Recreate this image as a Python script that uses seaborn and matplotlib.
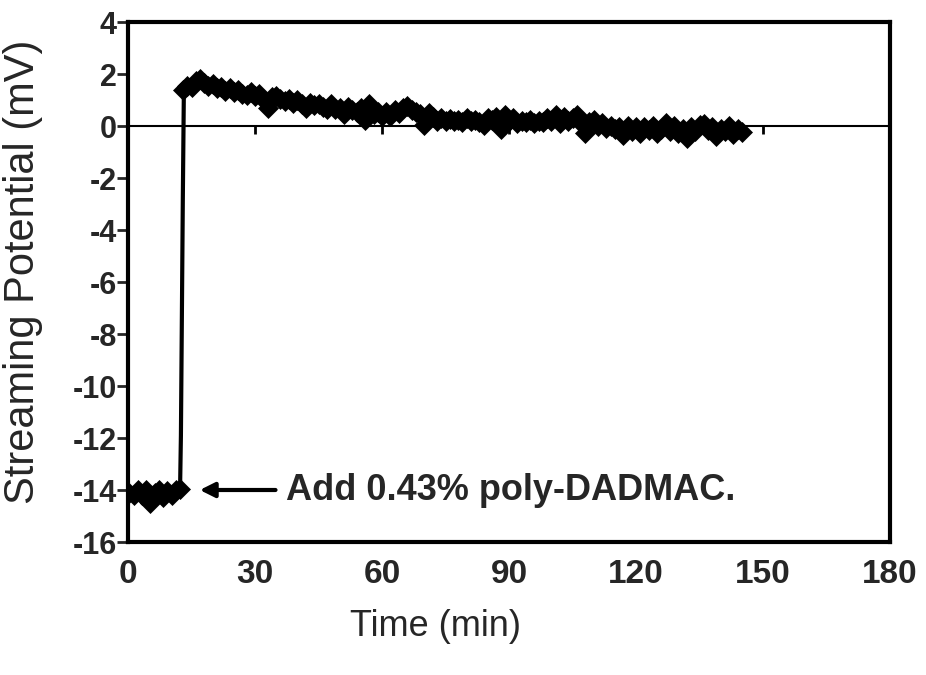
import matplotlib
matplotlib.use("Agg")
import matplotlib.pyplot as plt
import seaborn as sns
import numpy as np
import pandas as pd

# ---- data ----
pre_time = [0.3, 1.3, 2.3, 3.3, 4.3, 5.3, 6.3, 7.3, 8.3, 9.3, 10.3, 11.3, 12.3]
pre_potential = [-14.1, -14.2, -14.0, -14.2, -14.0, -14.5, -14.1, -14.0, -14.25, -14.05, -14.2, -14.0, -13.95]

jump_time = [12.3, 12.5, 12.95, 13.2]
jump_potential = [-13.95, -11.9, -2.8, 1.4]

post_time = list(range(13, 146))
post_potential = [
    1.40, 1.55, 1.50, 1.75, 1.80, 1.65, 1.55, 1.60, 1.45, 1.50,   # 13-22
    1.35, 1.45, 1.30, 1.40, 1.25, 1.20, 1.30, 1.15, 1.25, 1.05,   # 23-32
    0.70, 1.10, 1.15, 1.05, 0.95, 1.05, 0.90, 1.00, 0.85, 0.70,   # 33-42
    0.90, 0.80, 0.85, 0.75, 0.65, 0.85, 0.65, 0.70, 0.45, 0.75,   # 43-52
    0.60, 0.55, 0.70, 0.25, 0.85, 0.45, 0.55, 0.40, 0.55, 0.40,   # 53-62
    0.60, 0.50, 0.70, 0.78, 0.60, 0.55, 0.45, 0.05, 0.50, 0.35,   # 63-72
    0.20, 0.30, 0.20, 0.28, 0.20, 0.25, 0.15, 0.30, 0.20, 0.25,   # 73-82
    0.15, 0.05, 0.30, 0.25, 0.35, -0.10, 0.42, 0.20, 0.30, 0.12,  # 83-92
    0.20, 0.15, 0.25, 0.12, 0.20, 0.15, 0.30, 0.20, 0.42, 0.12,   # 93-102
    0.35, 0.20, 0.30, 0.42, 0.10, -0.27, 0.15, 0.22, 0.00, 0.10,  # 103-112
    -0.08, 0.00, -0.10, -0.05, -0.35, 0.00, -0.20, -0.05, -0.27, -0.05,  # 113-122
    -0.15, 0.00, -0.25, -0.10, 0.12, -0.20, 0.00, -0.27, -0.10, -0.46,   # 123-132
    -0.05, -0.20, 0.05, 0.08, -0.15, -0.05, -0.38, -0.10, -0.20, 0.00,   # 133-142
    -0.30, -0.10, -0.23,                                                  # 143-145
]

x_ticks = [0, 30, 60, 90, 120, 150, 180]
y_ticks = [4, 2, 0, -2, -4, -6, -8, -10, -12, -14, -16]
annotation_text = "Add 0.43% poly-DADMAC."

# ---- style ----
sns.set_style("white")
plt.rcParams['font.family'] = ['Liberation Sans', 'DejaVu Sans']

fig = plt.figure(figsize=(9.26, 6.75), dpi=100)
ax = fig.add_axes([128/926, 1-542/675, (890-128)/926, (542-22)/675])

pre_df = pd.DataFrame({"t": pre_time, "v": pre_potential})
post_df = pd.DataFrame({"t": post_time, "v": post_potential})
jump_df = pd.DataFrame({"t": jump_time, "v": jump_potential})

sns.lineplot(data=jump_df, x="t", y="v", ax=ax, color="black", lw=3,
             sort=False, estimator=None)
for df in (pre_df, post_df):
    sns.lineplot(data=df, x="t", y="v", ax=ax, color="black", lw=2,
                 marker="D", markersize=10.5, markeredgecolor="black",
                 markeredgewidth=0.5, sort=False, estimator=None)

ax.set_xlim(0, 180)
ax.set_ylim(-16, 4)

# zero axis line with tick marks
ax.axhline(0, color="black", lw=1.5, zorder=1)
ax.vlines(x_ticks[1:-1], -0.32, 0, color="black", lw=2, zorder=1)

ax.set_xticks(x_ticks)
ax.set_yticks(y_ticks)
ax.set_xticklabels([str(v) for v in x_ticks], fontsize=24, fontweight="bold")
ax.set_yticklabels([str(v) for v in y_ticks], fontsize=22, fontweight="bold")
ax.tick_params(axis="x", length=0, pad=12)
ax.tick_params(axis="y", length=8, width=2, direction="out", pad=0, left=True)

for s in ax.spines.values():
    s.set_color("black")
    s.set_linewidth(3)

ax.set_xlabel("Time (min)", fontsize=26)
ax.xaxis.set_label_coords(0.404, -0.128)
ax.set_ylabel("Streaming Potential (mV)", fontsize=30)
ax.yaxis.set_label_coords(-0.112, 0.519)

ax.annotate("", xy=(16.3, -14.0), xytext=(35.5, -14.0),
            arrowprops=dict(arrowstyle="-|>", color="black", lw=3,
                            mutation_scale=22))
ax.text(37.4, -14.0, annotation_text, fontsize=26, fontweight="bold",
        ha="left", va="center")

fig.savefig("out.png", dpi=100)
